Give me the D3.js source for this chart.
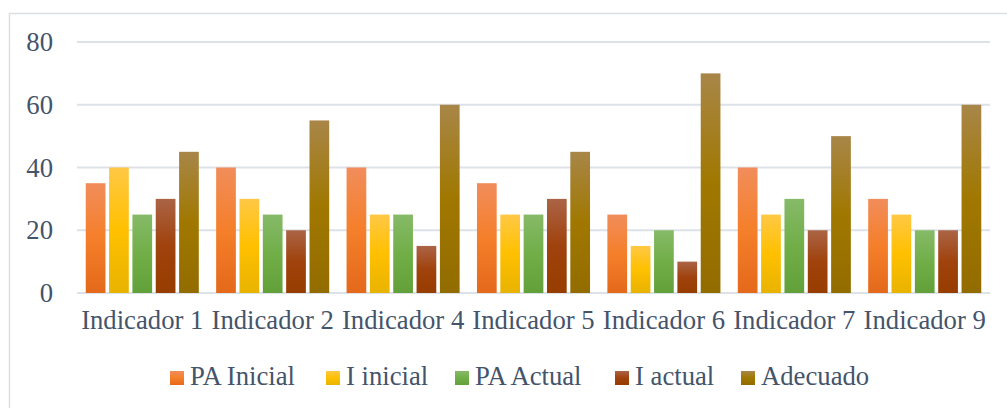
<!DOCTYPE html>
<html>
<head>
<meta charset="utf-8">
<script src="https://d3js.org/d3.v7.min.js"></script>
<style>
body { margin: 0; background: #fff; }
svg { display: block; }
text { font-family: "Liberation Serif", "Times New Roman", serif; fill: #44546A; }
</style>
</head>
<body>
<script>
// data
var categories = ["Indicador 1", "Indicador 2", "Indicador 4", "Indicador 5", "Indicador 6", "Indicador 7", "Indicador 9"];
var seriesNames = ["PA Inicial", "I inicial", "PA Actual", "I actual", "Adecuado"];
var paInicial = [35, 40, 40, 35, 25, 40, 30];
var iInicial  = [40, 30, 25, 25, 15, 25, 25];
var paActual  = [25, 25, 25, 25, 20, 30, 20];
var iActual   = [30, 20, 15, 30, 10, 20, 20];
var adecuado  = [45, 55, 60, 45, 70, 50, 60];
var yTicks = [0, 20, 40, 60, 80];

var seriesValues = [paInicial, iInicial, paActual, iActual, adecuado];
// gradient stops: top tint, middle, bottom shade
var colors = [
  ["#F18D5B", "#F57F2A", "#E4691B"],
  ["#FFC845", "#FFC000", "#E8B300"],
  ["#86BA68", "#71AE48", "#62A03A"],
  ["#AB6446", "#A0420C", "#973D00"],
  ["#A88648", "#A07800", "#936C00"]
];

var w = 1007, h = 408;
var pLeft = 77, pRight = 990, pTop = 42, pBottom = 293;
var font = "'Liberation Serif', 'Times New Roman', serif";
var fs = "26.7px";

var svg = d3.select("body").append("svg").attr("width", w).attr("height", h);

var defs = svg.append("defs");
colors.forEach(function(c, i) {
  var g = defs.append("linearGradient").attr("id", "grad" + i)
    .attr("x1", 0).attr("y1", 0).attr("x2", 0).attr("y2", 1);
  g.append("stop").attr("offset", "0%").attr("stop-color", c[0]);
  g.append("stop").attr("offset", "50%").attr("stop-color", c[1]);
  g.append("stop").attr("offset", "100%").attr("stop-color", c[2]);
});

// outer frame
svg.append("rect").attr("x", 9.5).attr("y", 13.5).attr("width", 1010).attr("height", 420)
  .attr("fill", "none").attr("stroke", "#DCE0E6").attr("stroke-width", 1.5);

var x0 = d3.scaleBand().domain(categories).range([pLeft, pRight]).paddingInner(0.133).paddingOuter(0.067);
var x1 = d3.scaleBand().domain(d3.range(seriesNames.length)).range([0, x0.bandwidth()]).paddingInner(0.155);
var y = d3.scaleLinear().domain([0, 80]).range([pBottom, pTop]);

// gridlines
svg.append("g").selectAll("line").data(yTicks).enter().append("line")
  .attr("x1", pLeft).attr("x2", pRight)
  .attr("y1", function(d) { return y(d); }).attr("y2", function(d) { return y(d); })
  .attr("stroke", "#DDE1E8").attr("stroke-width", 2);

// y axis labels
var yAxis = d3.axisLeft(y).tickValues(yTicks).tickSize(0).tickPadding(0);
var ya = svg.append("g").attr("transform", "translate(53,0)").call(yAxis);
ya.select(".domain").remove();
ya.attr("font-family", null).attr("font-size", null);
ya.selectAll("text").style("font-size", fs).style("font-family", font).attr("fill", "#44546A");

// bars
var groups = svg.append("g").selectAll("g").data(categories).enter().append("g")
  .attr("transform", function(d) { return "translate(" + x0(d) + ",0)"; });

groups.selectAll("rect").data(function(d, ci) {
  return seriesValues.map(function(vals, si) { return {s: si, v: vals[ci]}; });
}).enter().append("rect")
  .attr("x", function(d) { return x1(d.s); })
  .attr("width", x1.bandwidth())
  .attr("y", function(d) { return y(d.v); })
  .attr("height", function(d) { return y(0) - y(d.v); })
  .attr("fill", function(d) { return "url(#grad" + d.s + ")"; });

// x axis labels
var xAxis = d3.axisBottom(x0).tickSize(0).tickPadding(0);
var xa = svg.append("g").attr("transform", "translate(0,310)").call(xAxis);
xa.select(".domain").remove();
xa.attr("font-family", null).attr("font-size", null);
xa.selectAll("text").style("font-size", fs).style("font-family", font).attr("fill", "#44546A").attr("dy", "0.71em");

// legend
var legendX = [170, 326, 455, 615, 741];
var legend = svg.append("g").selectAll("g").data(seriesNames).enter().append("g")
  .attr("transform", function(d, i) { return "translate(" + legendX[i] + ",0)"; });
legend.append("rect").attr("x", 0).attr("y", 371).attr("width", 14).attr("height", 14)
  .attr("fill", function(d, i) { return "url(#grad" + i + ")"; });
legend.append("text").attr("x", 20).attr("y", 385).style("font-size", fs).style("font-family", font)
  .text(function(d) { return d; });
</script>
</body>
</html>
